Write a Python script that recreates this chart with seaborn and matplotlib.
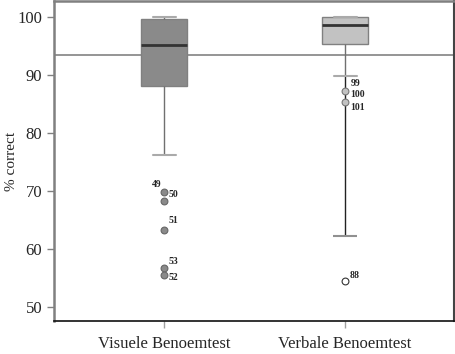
import numpy as np
import pandas as pd
import matplotlib
matplotlib.use("Agg")
import matplotlib.pyplot as plt
import seaborn as sns

# Test names
tests = ["Visuele Benoemtest", "Verbale Benoemtest"]

# Scores within the whiskers (read / estimated from the picture)
visuele_core = [76.2, 88.1, 89.5, 90.6, 91.8, 93.0, 94.1, 95.2, 96.0,
                96.8, 97.5, 98.2, 98.9, 99.6, 100, 100, 100, 100, 100, 100]
verbale_core = [89.9, 91.5, 93.5, 95.4, 96.0, 96.6, 97.1, 97.6, 98.1,
                98.6, 99.0, 99.3, 99.6, 99.8, 100, 100, 100, 100, 100, 100,
                100, 100]

# Outliers with case numbers
visuele_out = [69.9, 68.2, 63.2, 56.8, 55.6]
verbale_out = [87.2, 85.3, 54.5]

# Extra lower range line on the verbal test and the reference line
verbale_low = 62.3
reference = 93.45

df = pd.DataFrame({
    "test": [tests[0]] * (len(visuele_core) + len(visuele_out))
            + [tests[1]] * (len(verbale_core) + len(verbale_out)),
    "score": visuele_core + visuele_out + verbale_core + verbale_out,
})

sns.set_style("white")
plt.rcParams["font.family"] = ["Liberation Serif", "DejaVu Serif"]

fig = plt.figure(figsize=(4.56, 3.54), dpi=100)
ax = fig.add_axes([54 / 456, 33 / 354, 400 / 456, 320 / 354])

sns.boxplot(data=df, x="test", y="score", hue="test", order=tests,
            palette=["#8a8a8a", "#c2c2c2"], legend=False, width=0.254,
            whis=1.5, showfliers=False, linecolor="#808080", linewidth=1,
            medianprops=dict(color="#333333", linewidth=2),
            whiskerprops=dict(color="#707070", linewidth=1),
            capprops=dict(color="#aaaaaa", linewidth=1.5),
            saturation=1, ax=ax)

# Lower range line on verbal test
ax.vlines(1, verbale_low, verbale_core[0], color="#222222", lw=1, zorder=1)
ax.hlines(verbale_low, 1 - 0.064, 1 + 0.064, color="#909090", lw=1.5, zorder=1)

# Outliers
sns.scatterplot(x=[0] * len(visuele_out), y=visuele_out, ax=ax, s=24,
                color="#8a8a8a", edgecolor="#666666", linewidth=0.8, zorder=4)
sns.scatterplot(x=[1] * 2, y=verbale_out[:2], ax=ax, s=24,
                color="#c2c2c2", edgecolor="#777777", linewidth=0.8, zorder=4)
sns.scatterplot(x=[1], y=verbale_out[2:], ax=ax, s=24,
                color="white", edgecolor="#333333", linewidth=0.8, zorder=4)

lab = dict(fontsize=7, fontweight="semibold", textcoords="offset points")
ax.annotate("49", (0, visuele_out[0]), xytext=(-9, 2), ha="left", va="bottom", **lab)
ax.annotate("50", (0, visuele_out[0]), xytext=(3, -2), ha="left", va="center", **lab)
ax.annotate("51", (0, visuele_out[2]), xytext=(3, 4), ha="left", va="bottom", **lab)
ax.annotate("53", (0, visuele_out[3]), xytext=(3, 1), ha="left", va="bottom", **lab)
ax.annotate("52", (0, visuele_out[4]), xytext=(3, -2), ha="left", va="center", **lab)
ax.annotate("99", (1, verbale_core[0]), xytext=(4, -6), ha="left", va="center", **lab)
ax.annotate("100", (1, verbale_out[0]), xytext=(4, -2), ha="left", va="center", **lab)
ax.annotate("101", (1, verbale_out[1]), xytext=(4, -4), ha="left", va="center", **lab)
ax.annotate("88", (1, verbale_out[2]), xytext=(3, 4), ha="left", va="center", **lab)

# Reference line
ax.axhline(reference, color="#8c8c8c", lw=1.3, zorder=0.5)

ax.set_xlim(-0.608, 1.602)
ax.set_ylim(47.6, 102.76)
ax.set_yticks([50, 60, 70, 80, 90, 100])
ax.set_xlabel("")
ax.set_ylabel("% correct", fontsize=11)
ax.yaxis.set_label_coords(-0.09, 0.5)
ax.tick_params(axis="y", left=True, length=5, color="#808080", labelsize=12, width=1)
ax.tick_params(axis="x", bottom=True, length=5, color="#a0a0a0", labelsize=12,
               pad=6, width=1)

ax.spines["left"].set_color("#808080")
ax.spines["left"].set_linewidth(1.8)
ax.spines["top"].set_color("#808080")
ax.spines["top"].set_linewidth(1.8)
ax.spines["right"].set_color("#444444")
ax.spines["right"].set_linewidth(1.5)
ax.spines["bottom"].set_color("#111111")
ax.spines["bottom"].set_linewidth(1.2)

fig.savefig("out.png", dpi=100)
